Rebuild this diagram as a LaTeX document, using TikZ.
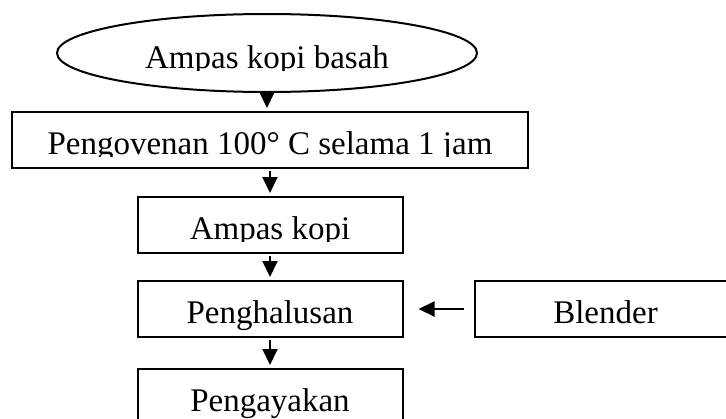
\documentclass[tikz,border=0pt]{standalone}
\usepackage{fontspec}
\setmainfont{Liberation Serif}
\usepackage{trimclip}
\usetikzlibrary{shapes.geometric, positioning, arrows.meta}
\tikzset{
  every node/.style={font=\fontsize{33}{40}\selectfont}, % large serif text everywhere
  box/.style={draw, line width=2pt, minimum height=56pt, inner sep=0pt, text height=28pt, text depth=0pt}, % process steps
  startnode/.style={ellipse, draw, line width=2pt, minimum width=420pt, minimum height=78pt, inner sep=0pt, text height=30pt, text depth=0pt}, % raw material
  flowarrow/.style={-{Triangle[length=16pt,width=15pt]}, line width=2pt, shorten <=2pt, shorten >=3pt}, % solid arrow heads
  node distance=26pt, % gap between the steps. Change if necessary.
}
% cut the descenders off, as in the original text boxes
\newcommand{\cuttext}[1]{\clipbox{0pt 5pt 0pt 0pt}{#1}}

\begin{document}
\begin{tikzpicture}
  \useasboundingbox (0,0) rectangle (726pt,-418pt);

  \node[startnode] (basah) at (267pt,-53pt) {\cuttext{Ampas kopi basah}};
  \node[box, minimum width=516pt, below=18pt of basah, xshift=3pt] (oven) {\cuttext{Pengovenan 100° C selama 1 jam}};
  \node[box, minimum width=265pt, below=27pt of oven] (ampas) {\cuttext{Ampas kopi}};
  \node[box, minimum width=265pt, below=of ampas] (halus) {Penghalusan};
  \node[box, minimum width=265pt, below=30pt of halus] (ayak) {Pengayakan};
  \node[box, minimum width=262pt, right=70pt of halus] (blender) {Blender};

  \draw[flowarrow] (basah.south) -- (basah.south |- oven.north);
  \draw[flowarrow] (oven) -- (ampas);
  \draw[flowarrow] (ampas) -- (halus);
  \draw[flowarrow] (halus) -- (ayak);
  \draw[flowarrow, shorten <=10pt, shorten >=15pt] (blender) -- (halus);

\end{tikzpicture}
\end{document}
